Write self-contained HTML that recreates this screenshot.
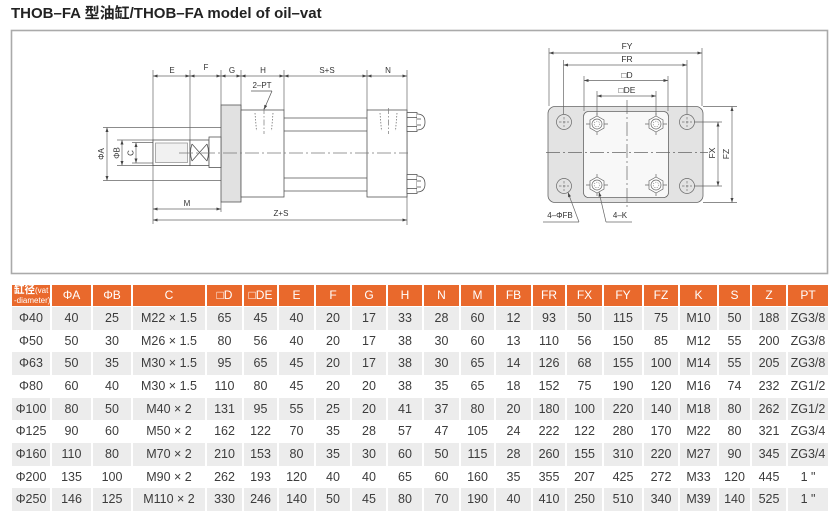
<!DOCTYPE html>
<html><head><meta charset="utf-8">
<style>
html,body{margin:0;padding:0;background:#fff;}
body{width:840px;height:521px;position:relative;overflow:hidden;font-family:"Liberation Sans","Noto Sans CJK SC",sans-serif;}
.title{position:absolute;left:11px;top:5px;font-size:15px;font-weight:bold;color:#222;line-height:18px;white-space:nowrap;}
.tbl{position:absolute;left:12px;top:285px;width:818px;}
.row{display:grid;grid-template-columns:40px 41px 40px 74px 37px 35px 37px 36px 36px 36px 37px 35px 37px 34px 37px 40px 36px 39px 33px 36px 42px;}
.row>div{box-sizing:border-box;border-right:2px solid #fff;text-align:center;white-space:nowrap;overflow:hidden;}
.hd{height:21px;margin-bottom:1px;}
.hd>div{background:#e9692c;color:#fff;font-size:12px;line-height:21px;}
.dr{height:22.67px;}
.dr>div{font-size:12.5px;line-height:22.67px;color:#3c3c3c;}
.g>div{background:#ececec;}
.h1{text-align:left!important;line-height:9px!important;padding-left:2px;}
.h1 b{font-size:10.5px;}
.h1 span{font-size:8px;}
svg text{font-family:"Liberation Sans","DejaVu Sans",sans-serif;fill:#333;}
</style></head><body>
<div class="title">THOB–FA 型油缸/THOB–FA model of oil–vat</div>

<svg width="840" height="280" style="position:absolute;left:0;top:0" xmlns="http://www.w3.org/2000/svg">
<defs>
<marker id="a" viewBox="0 0 6 4" refX="6" refY="2" markerWidth="5" markerHeight="3" markerUnits="userSpaceOnUse" orient="auto-start-reverse"><path d="M0,0L6,2L0,4z" fill="#444"/></marker>
</defs>
<rect x="11.5" y="30.5" width="816" height="243" fill="none" stroke="#aaa" stroke-width="1.6"/>

<!-- LEFT DRAWING -->
<g stroke="#666" stroke-width="0.7" fill="none">
  <!-- extension lines -->
  <line x1="153" y1="70" x2="153" y2="224"/>
  <line x1="190" y1="70" x2="190" y2="140"/>
  <line x1="221" y1="70" x2="221" y2="105"/>
  <line x1="221" y1="202" x2="221" y2="212"/>
  <line x1="241" y1="70" x2="241" y2="110"/>
  <line x1="284" y1="70" x2="284" y2="110"/>
  <line x1="367" y1="70" x2="367" y2="110"/>
  <line x1="407" y1="70" x2="407" y2="225"/>
  <!-- top chain -->
  <g marker-start="url(#a)" marker-end="url(#a)">
    <line x1="153" y1="76" x2="190" y2="76"/>
    <line x1="190" y1="76" x2="221" y2="76"/>
    <line x1="221" y1="76" x2="241" y2="76"/>
    <line x1="241" y1="76" x2="284" y2="76"/>
    <line x1="284" y1="76" x2="367" y2="76"/>
    <line x1="367" y1="76" x2="407" y2="76"/>
    <line x1="153" y1="209" x2="221" y2="209"/>
    <line x1="153" y1="220" x2="407" y2="220"/>
    <line x1="107" y1="127.5" x2="107" y2="180.5"/>
    <line x1="122" y1="140" x2="122" y2="165.5"/>
    <line x1="136" y1="142.5" x2="136" y2="163"/>
  </g>
  <!-- rod extension lines -->
  <line x1="103" y1="127.5" x2="241" y2="127.5"/>
  <line x1="103" y1="180.5" x2="241" y2="180.5"/>
  <line x1="117" y1="140" x2="153" y2="140"/>
  <line x1="117" y1="165.5" x2="153" y2="165.5"/>
  <line x1="132" y1="142.5" x2="155" y2="142.5"/>
  <line x1="132" y1="163" x2="155" y2="163"/>
</g>
<g stroke="#555" stroke-width="0.8">
  <rect x="221" y="105" width="20" height="97" fill="#e1e1e1"/>
  <rect x="241" y="110" width="43" height="87" fill="#fff"/>
  <rect x="367" y="110" width="40" height="87" fill="#fff"/>
  <line x1="284" y1="118" x2="367" y2="118"/>
  <line x1="284" y1="131" x2="367" y2="131"/>
  <line x1="284" y1="178" x2="367" y2="178"/>
  <line x1="284" y1="191" x2="367" y2="191"/>
  <rect x="153" y="140" width="37" height="25.5" fill="#fff"/>
  <rect x="155.5" y="143" width="32" height="19.5" fill="#f1f1f1" stroke="#999"/>
  <rect x="190" y="140" width="19" height="25.5" fill="#fff"/>
  <path d="M192,144 L207,161 M192,161 L207,144 M192,144 Q189,152.5 192,161 M207,144 Q210,152.5 207,161" fill="none"/>
  <rect x="209" y="137" width="12" height="30.5" fill="#fff"/>
  <!-- nuts -->
  <g fill="#fff">
    <rect x="407" y="112.5" width="10" height="19"/>
    <path d="M417,114 Q425,114 425,122 Q425,130 417,130"/>
    <rect x="407" y="174.5" width="10" height="19"/>
    <path d="M417,176 Q425,176 425,184 Q425,192 417,192"/>
  </g>
  <line x1="407" y1="117.5" x2="417" y2="117.5"/>
  <line x1="407" y1="126.5" x2="417" y2="126.5"/>
  <line x1="417" y1="119" x2="421" y2="119"/>
  <line x1="417" y1="125" x2="421" y2="125"/>
  <line x1="407" y1="179.5" x2="417" y2="179.5"/>
  <line x1="407" y1="188.5" x2="417" y2="188.5"/>
  <line x1="417" y1="181" x2="421" y2="181"/>
  <line x1="417" y1="187" x2="421" y2="187"/>
</g>
<!-- ports -->
<g stroke="#777" stroke-width="0.8" stroke-dasharray="1.5,1.5" fill="none">
  <line x1="255" y1="113" x2="256.5" y2="131"/>
  <line x1="273" y1="113" x2="271.5" y2="131"/>
  <line x1="380" y1="113" x2="381.5" y2="131"/>
  <line x1="397" y1="113" x2="395.5" y2="131"/>
</g>
<g stroke="#777" stroke-width="0.7" stroke-dasharray="6,2,1.5,2" fill="none">
  <line x1="264" y1="108" x2="264" y2="134"/>
  <line x1="388.5" y1="108" x2="388.5" y2="134"/>
  <line x1="179" y1="153" x2="408" y2="153" stroke-dasharray="14,3,2,3"/>
</g>
<g stroke="#555" stroke-width="0.7" fill="none">
  <line x1="251" y1="91" x2="272" y2="91"/>
  <line x1="272" y1="91" x2="264" y2="109.5" marker-end="url(#a)"/>
</g>
<g font-size="8" text-anchor="middle">
  <text x="172" y="73">E</text>
  <text x="206" y="70">F</text>
  <text x="232" y="73">G</text>
  <text x="263" y="73">H</text>
  <text x="327" y="73">S+S</text>
  <text x="388" y="73">N</text>
  <text x="262" y="88">2–PT</text>
  <text x="187" y="206">M</text>
  <text x="281" y="216">Z+S</text>
  <text transform="translate(104,154) rotate(-90)">ΦA</text>
  <text transform="translate(119.5,153) rotate(-90)">ΦB</text>
  <text transform="translate(133.5,153) rotate(-90)">C</text>
</g>

<!-- RIGHT DRAWING -->
<rect x="548" y="106.5" width="155" height="96" rx="7" fill="#e3e3e3" stroke="#666" stroke-width="0.8"/>
<rect x="583.5" y="111.5" width="85" height="86" rx="5" fill="#f8f8f8" stroke="#666" stroke-width="0.8"/>
<g stroke="#666" stroke-width="0.7" fill="none">
  <line x1="549" y1="48" x2="549" y2="106"/>
  <line x1="702" y1="48" x2="702" y2="106"/>
  <line x1="563.5" y1="60" x2="563.5" y2="114"/>
  <line x1="687" y1="60" x2="687" y2="114"/>
  <line x1="584" y1="76" x2="584" y2="111"/>
  <line x1="668" y1="76" x2="668" y2="111"/>
  <line x1="597" y1="91" x2="597" y2="115"/>
  <line x1="656" y1="91" x2="656" y2="115"/>
  <line x1="694" y1="122" x2="722" y2="122"/>
  <line x1="694" y1="186" x2="722" y2="186"/>
  <line x1="703" y1="106.5" x2="737" y2="106.5"/>
  <line x1="703" y1="202.5" x2="737" y2="202.5"/>
  <g marker-start="url(#a)" marker-end="url(#a)">
    <line x1="549" y1="53" x2="702" y2="53"/>
    <line x1="563.5" y1="65" x2="687" y2="65"/>
    <line x1="584" y1="80.5" x2="668" y2="80.5"/>
    <line x1="597" y1="96" x2="656" y2="96"/>
    <line x1="718" y1="122" x2="718" y2="186"/>
    <line x1="732" y1="106.5" x2="732" y2="202.5"/>
  </g>
  <line x1="546" y1="152.5" x2="708" y2="152.5" stroke-dasharray="14,3,2,3"/>
  <line x1="627" y1="100" x2="627" y2="207" stroke-dasharray="14,3,2,3"/>
  <!-- outer holes -->
  <g>
    <circle cx="564" cy="122" r="7.5"/>
    <circle cx="687" cy="122" r="7.5"/>
    <circle cx="564" cy="186" r="7.5"/>
    <circle cx="687" cy="186" r="7.5"/>
  </g>
  <g stroke-dasharray="2.5,1.5" stroke="#777">
    <path d="M559,122h10M564,117v10M682,122h10M687,117v10M559,186h10M564,181v10M682,186h10M687,181v10"/>
  </g>
  <!-- hex nuts -->
  <g fill="#fff">
    <polygon points="597,116 604,120 604,128 597,132 590,128 590,120"/>
    <polygon points="656,116 663,120 663,128 656,132 649,128 649,120"/>
    <polygon points="597,177 604,181 604,189 597,193 590,189 590,181"/>
    <polygon points="656,177 663,181 663,189 656,193 649,189 649,181"/>
  </g>
  <circle cx="597" cy="124" r="5"/><circle cx="656" cy="124" r="5"/>
  <circle cx="597" cy="185" r="5"/><circle cx="656" cy="185" r="5"/>
  <g stroke-dasharray="1.2,1.2" stroke="#888">
    <circle cx="597" cy="124" r="2.8"/><circle cx="656" cy="124" r="2.8"/>
    <circle cx="597" cy="185" r="2.8"/><circle cx="656" cy="185" r="2.8"/>
  </g>
  <path d="M597,113v3M597,132v3M586,124h4M604,124h4M656,113v3M656,132v3M645,124h4M663,124h4M597,174v3M597,193v3M586,185h4M604,185h4M656,174v3M656,193v3M645,185h4M663,185h4"/>
  <!-- leaders -->
  <line x1="543" y1="222" x2="579" y2="222"/>
  <line x1="579" y1="222" x2="568" y2="192.5" marker-end="url(#a)"/>
  <line x1="606" y1="222" x2="632" y2="222"/>
  <line x1="606" y1="222" x2="599" y2="192" marker-end="url(#a)"/>
</g>
<g font-size="8.5" text-anchor="middle">
  <text x="627" y="49">FY</text>
  <text x="627" y="62">FR</text>
  <text x="627" y="78">□D</text>
  <text x="627" y="93">□DE</text>
  <text transform="translate(715,153) rotate(-90)">FX</text>
  <text transform="translate(729,154) rotate(-90)">FZ</text>
  <text x="560" y="218" font-size="8">4–ΦFB</text>
  <text x="620" y="218" font-size="8">4–K</text>
</g>
</svg>

<div class="tbl">
<div class="row hd">
  <div class="h1"><b>缸径</b><span>(vat</span><br><span>-diameter)</span></div>
  <div>ΦA</div><div>ΦB</div><div>C</div><div>□D</div><div>□DE</div><div>E</div><div>F</div><div>G</div><div>H</div><div>N</div><div>M</div><div>FB</div><div>FR</div><div>FX</div><div>FY</div><div>FZ</div><div>K</div><div>S</div><div>Z</div><div>PT</div>
</div>
<div class="row dr g"><div>Φ40</div><div>40</div><div>25</div><div>M22 × 1.5</div><div>65</div><div>45</div><div>40</div><div>20</div><div>17</div><div>33</div><div>28</div><div>60</div><div>12</div><div>93</div><div>50</div><div>115</div><div>75</div><div>M10</div><div>50</div><div>188</div><div>ZG3/8</div></div>
<div class="row dr"><div>Φ50</div><div>50</div><div>30</div><div>M26 × 1.5</div><div>80</div><div>56</div><div>40</div><div>20</div><div>17</div><div>38</div><div>30</div><div>60</div><div>13</div><div>110</div><div>56</div><div>150</div><div>85</div><div>M12</div><div>55</div><div>200</div><div>ZG3/8</div></div>
<div class="row dr g"><div>Φ63</div><div>50</div><div>35</div><div>M30 × 1.5</div><div>95</div><div>65</div><div>45</div><div>20</div><div>17</div><div>38</div><div>30</div><div>65</div><div>14</div><div>126</div><div>68</div><div>155</div><div>100</div><div>M14</div><div>55</div><div>205</div><div>ZG3/8</div></div>
<div class="row dr"><div>Φ80</div><div>60</div><div>40</div><div>M30 × 1.5</div><div>110</div><div>80</div><div>45</div><div>20</div><div>20</div><div>38</div><div>35</div><div>65</div><div>18</div><div>152</div><div>75</div><div>190</div><div>120</div><div>M16</div><div>74</div><div>232</div><div>ZG1/2</div></div>
<div class="row dr g"><div>Φ100</div><div>80</div><div>50</div><div>M40 × 2</div><div>131</div><div>95</div><div>55</div><div>25</div><div>20</div><div>41</div><div>37</div><div>80</div><div>20</div><div>180</div><div>100</div><div>220</div><div>140</div><div>M18</div><div>80</div><div>262</div><div>ZG1/2</div></div>
<div class="row dr"><div>Φ125</div><div>90</div><div>60</div><div>M50 × 2</div><div>162</div><div>122</div><div>70</div><div>35</div><div>28</div><div>57</div><div>47</div><div>105</div><div>24</div><div>222</div><div>122</div><div>280</div><div>170</div><div>M22</div><div>80</div><div>321</div><div>ZG3/4</div></div>
<div class="row dr g"><div>Φ160</div><div>110</div><div>80</div><div>M70 × 2</div><div>210</div><div>153</div><div>80</div><div>35</div><div>30</div><div>60</div><div>50</div><div>115</div><div>28</div><div>260</div><div>155</div><div>310</div><div>220</div><div>M27</div><div>90</div><div>345</div><div>ZG3/4</div></div>
<div class="row dr"><div>Φ200</div><div>135</div><div>100</div><div>M90 × 2</div><div>262</div><div>193</div><div>120</div><div>40</div><div>40</div><div>65</div><div>60</div><div>160</div><div>35</div><div>355</div><div>207</div><div>425</div><div>272</div><div>M33</div><div>120</div><div>445</div><div>1 "</div></div>
<div class="row dr g"><div>Φ250</div><div>146</div><div>125</div><div>M110 × 2</div><div>330</div><div>246</div><div>140</div><div>50</div><div>45</div><div>80</div><div>70</div><div>190</div><div>40</div><div>410</div><div>250</div><div>510</div><div>340</div><div>M39</div><div>140</div><div>525</div><div>1 "</div></div>
</div>
</body></html>
